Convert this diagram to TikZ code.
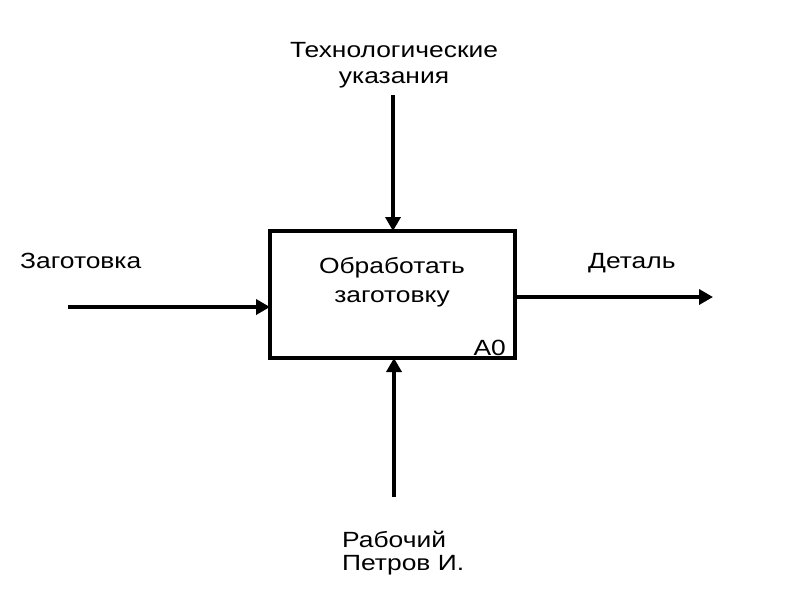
\documentclass[tikz,border=0pt]{standalone}
\usepackage{fontspec}
\setmainfont{Liberation Sans}[FakeStretch=1.2]
\usetikzlibrary{arrows.meta}
\begin{document}
\begin{tikzpicture}[x=1pt,y=-1pt,
  lbl/.style={inner sep=0pt,font=\fontsize{22}{26}\selectfont},
  flow/.style={line width=3.5pt,-{Triangle[length=14pt,width=15pt]}},
  func/.style={draw,line width=3.5pt,inner sep=0pt}]
\useasboundingbox (0,0) rectangle (800,600);
\node[func,minimum width=245pt,minimum height=127pt] (box) at (392.5,294.5) {};
\coordinate (tin) at (393,231);
\coordinate (bin) at (394,358);
\coordinate (lin) at (270,307);
\coordinate (rout) at (516,297);
\coordinate (ts) at (393,95);
\coordinate (bs) at (394,497);
\coordinate (ls) at (68,307);
\coordinate (re) at (713,297);
\draw[flow] (ts) -- (tin);
\draw[flow] (bs) -- (bin);
\draw[flow] (ls) -- (lin);
\draw[flow] (rout) -- (re);
\node[lbl,anchor=base] (t1) at (394,57) {Технологические};
\node[lbl,anchor=base] (t2) at (394,83) {указания};
\node[lbl,anchor=base] (f1) at (392,273) {Обработать};
\node[lbl,anchor=base] (f2) at (392,302) {заготовку};
\node[lbl,anchor=base east] (a0) at (506,355) {A0};
\node[lbl,anchor=base west] (in) at (20,268) {Заготовка};
\node[lbl,anchor=base west] (out) at (588,268) {Деталь};
\node[lbl,anchor=base west] (m1) at (342,547) {Рабочий};
\node[lbl,anchor=base west] (m2) at (342,570) {Петров И.};
\end{tikzpicture}
\end{document}
